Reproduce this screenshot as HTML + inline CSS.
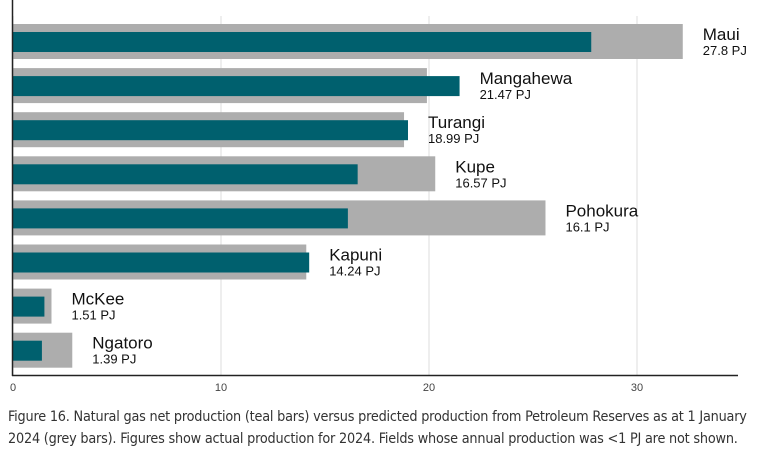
<!DOCTYPE html>
<html><head><meta charset="utf-8"><style>
body{margin:0;background:#fff;width:764px;height:454px;overflow:hidden;font-family:"Liberation Sans",sans-serif}
#cap{position:absolute;left:8px;top:406px;width:756px;font-size:14.3px;line-height:22px;color:#333;font-family:"DejaVu Sans Condensed","Liberation Sans",sans-serif;letter-spacing:-0.2px;white-space:nowrap}
</style></head><body>
<svg id="chart" width="764" height="400" style="position:absolute;left:0;top:0"></svg>
<div id="cap">Figure 16. Natural gas net production (teal bars) versus predicted production from Petroleum Reserves as at 1 January<br>2024 (grey bars). Figures show actual production for 2024. Fields whose annual production was &lt;1 PJ are not shown.</div>
<script>
const fields=["Maui","Mangahewa","Turangi","Kupe","Pohokura","Kapuni","McKee","Ngatoro"];
const actual=[27.8,21.47,18.99,16.57,16.1,14.24,1.51,1.39];
const predicted=[32.2,19.9,18.8,20.3,25.6,14.1,1.85,2.85];
const ticks=[0,10,20,30];
const NS="http://www.w3.org/2000/svg";
const svg=document.getElementById('chart');
const x=v=>13+v*20.8;
const rowY=i=>24+i*44.1;
function mk(t,a,p){const e=document.createElementNS(NS,t);for(const k in a)e.setAttribute(k,a[k]);(p||svg).appendChild(e);return e;}
ticks.forEach(t=>{
 const g=mk('line',{x1:x(t),x2:x(t),y1:16,y2:375,stroke:'#e8e8e8','stroke-width':1.5});
 
 
 const l=mk('text',{x:x(t),y:391,'text-anchor':'middle','font-size':11,fill:'#444'});
 l.textContent=t;
 
 
});
fields.forEach((f,i)=>{
 const y=rowY(i);
 const g=mk('rect',{x:x(0),y:y,width:x(predicted[i])-x(0),height:35,fill:'#adadad'});
 
 
 const b=mk('rect',{x:x(0),y:y+8,width:x(actual[i])-x(0),height:20,fill:'#00606e'});
 
 
 const lx=x(Math.max(actual[i],predicted[i]))+20;
 const n=mk('text',{x:lx,y:y+16,'font-size':17,fill:'#111'});
 n.textContent=f;
 
 
 const v=mk('text',{x:lx,y:y+31,'font-size':13,fill:'#111'});
 v.textContent=actual[i]+' PJ';
 
 
});
const ya=mk('line',{x1:12.5,x2:12.5,y1:0,y2:376,stroke:'#222','stroke-width':1.5});


const xa=mk('line',{x1:12,x2:738,y1:375.5,y2:375.5,stroke:'#222','stroke-width':1.5});


</script>
</body></html>
